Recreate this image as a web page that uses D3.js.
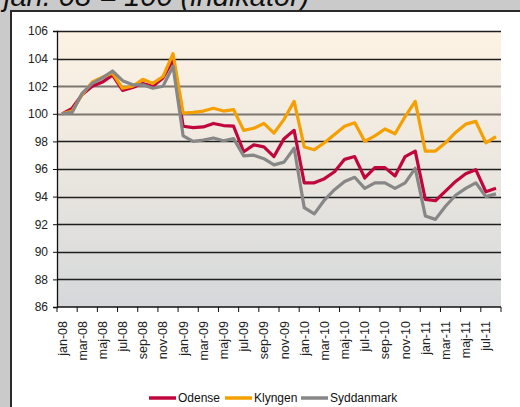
<!DOCTYPE html>
<html>
<head>
<meta charset="utf-8">
<script src="https://cdn.jsdelivr.net/npm/d3@7"></script>
<style>
  body { margin: 0; background: #cacaca; }
  svg { display: block; font-family: "Liberation Sans", Arial, sans-serif; }
</style>
</head>
<body>
<svg id="chart"></svg>
<script>
// Index, jan. 08 = 100
const months = [
  "jan-08","feb-08","mar-08","apr-08","maj-08","jun-08","jul-08","aug-08","sep-08","okt-08","nov-08","dec-08",
  "jan-09","feb-09","mar-09","apr-09","maj-09","jun-09","jul-09","aug-09","sep-09","okt-09","nov-09","dec-09",
  "jan-10","feb-10","mar-10","apr-10","maj-10","jun-10","jul-10","aug-10","sep-10","okt-10","nov-10","dec-10",
  "jan-11","feb-11","mar-11","apr-11","maj-11","jun-11","jul-11","aug-11"
];

const odense = [
  100.0, 100.4, 101.4, 102.0, 102.3, 102.8, 101.7, 101.9, 102.2, 102.0, 102.6, 103.9,
  99.1, 99.0, 99.05, 99.3, 99.15, 99.1, 97.25, 97.75, 97.6, 96.9, 98.2, 98.8,
  95.0, 95.0, 95.3, 95.8, 96.7, 96.9, 95.35, 96.1, 96.1, 95.5, 96.9, 97.3,
  93.8, 93.7, 94.4, 95.1, 95.65, 95.95, 94.35, 94.6
];

const klyngen = [
  100.0, 100.2, 101.4, 102.3, 102.65, 102.95, 101.85, 102.0, 102.5, 102.2, 102.7, 104.35,
  100.05, 100.1, 100.2, 100.4, 100.2, 100.3, 98.8, 98.95, 99.3, 98.6, 99.6, 100.9,
  97.6, 97.4, 97.9, 98.5, 99.1, 99.35, 98.0, 98.4, 98.9, 98.55, 99.8, 100.9,
  97.3, 97.3, 97.9, 98.65, 99.25, 99.45, 97.9, 98.35
];

const syddanmark = [
  100.0, 100.1, 101.5, 102.2, 102.6, 103.1, 102.4, 102.1, 102.1, 101.85, 102.0, 103.45,
  98.4, 98.0, 98.1, 98.25, 98.05, 98.2, 96.95, 97.0, 96.75, 96.3, 96.5, 97.5,
  93.2, 92.75, 93.75, 94.5, 95.1, 95.4, 94.6, 95.0, 95.0, 94.6, 95.0, 96.05,
  92.6, 92.35, 93.3, 94.1, 94.6, 95.0, 94.0, 94.2
];

const yTicks = [86, 88, 90, 92, 94, 96, 98, 100, 102, 104, 106];

const seriesNames = ["Odense", "Klyngen", "Syddanmark"];
const seriesColors = ["#c0063c", "#f5a000", "#878787"];

const width = 520;
const height = 407;
const margin = { top: 31, right: 19, bottom: 100, left: 57 };
const innerWidth = width - margin.left - margin.right;
const innerHeight = height - margin.top - margin.bottom;

const svg = d3.select("#chart")
    .attr("width", width)
    .attr("height", height);

// title, cut off at the top like the original
svg.append("text")
    .attr("x", 4)
    .attr("y", 6)
    .style("font-size", "29px")
    .style("font-style", "italic")
    .attr("fill", "#111")
    .text("jan. 08 = 100 (indikator)");

// white panel with dark left/top border
svg.append("rect")
    .attr("x", 11)
    .attr("y", 11)
    .attr("width", width)
    .attr("height", height)
    .attr("fill", "#fff")
    .attr("stroke", "#2a2a2a")
    .attr("stroke-width", 2);

const defs = svg.append("defs");
const grad = defs.append("linearGradient")
    .attr("id", "bg")
    .attr("x1", 0).attr("y1", 0)
    .attr("x2", 0).attr("y2", 1);
grad.append("stop").attr("offset", "0%").attr("stop-color", "#fdf3e4");
grad.append("stop").attr("offset", "45%").attr("stop-color", "#ede8e0");
grad.append("stop").attr("offset", "100%").attr("stop-color", "#d5d8da");

const g = svg.append("g")
    .attr("transform", "translate(" + margin.left + "," + margin.top + ")");

const xScale = d3.scaleBand()
    .domain(months)
    .range([0, innerWidth]);

const yScale = d3.scaleLinear()
    .domain([86, 106])
    .range([innerHeight, 0]);

g.append("rect")
    .attr("width", innerWidth)
    .attr("height", innerHeight)
    .attr("fill", "url(#bg)");

// gridlines
g.selectAll(".grid")
    .data(yTicks.filter(d => d !== 86))
    .enter()
    .append("line")
    .attr("class", "grid")
    .attr("x1", 0)
    .attr("x2", innerWidth)
    .attr("y1", d => Math.round(yScale(d)) + 0.5)
    .attr("y2", d => Math.round(yScale(d)) + 0.5)
    .attr("stroke", d => (d === 100 || d === 102) ? "#7b766f" : "#1e1e1e")
    .attr("stroke-width", d => (d === 100 || d === 102) ? 2 : 1.3);

// y axis
const yAxis = d3.axisLeft(yScale)
    .tickValues(yTicks)
    .tickSize(4)
    .tickPadding(5);

g.append("g")
    .attr("class", "y-axis")
    .call(yAxis)
    .call(a => a.select(".domain").attr("stroke", "#111").attr("stroke-width", 1.3))
    .call(a => a.selectAll(".tick line").attr("stroke", "#111"))
    .call(a => a.selectAll(".tick text")
        .attr("fill", "#222")
        .style("font-size", "12px")
        .style("font-family", "'Liberation Sans', Arial, sans-serif"));

// x axis: ticks every second month at band edges
const xAxisG = g.append("g")
    .attr("class", "x-axis")
    .attr("transform", "translate(0," + innerHeight + ")");

xAxisG.append("line")
    .attr("x1", 0)
    .attr("x2", innerWidth)
    .attr("stroke", "#111")
    .attr("stroke-width", 1.3);

const tickMonths = months.filter((d, i) => i % 2 === 0);

xAxisG.selectAll(".x-tick")
    .data(tickMonths.concat([null]))
    .enter()
    .append("line")
    .attr("class", "x-tick")
    .attr("x1", d => d === null ? innerWidth : xScale(d))
    .attr("x2", d => d === null ? innerWidth : xScale(d))
    .attr("y1", 0)
    .attr("y2", 5)
    .attr("stroke", "#111");

xAxisG.selectAll(".x-label")
    .data(tickMonths)
    .enter()
    .append("text")
    .attr("class", "x-label")
    .attr("transform", d => "translate(" + (xScale(d) + xScale.bandwidth() / 2) + ",14) rotate(-90)")
    .attr("dy", "0.36em")
    .style("text-anchor", "end")
    .style("font-size", "12.5px")
    .attr("fill", "#222")
    .text(d => d);

// lines
const allSeries = [odense, klyngen, syddanmark];

const line = d3.line()
    .x((d, i) => xScale(months[i]) + xScale.bandwidth() / 2)
    .y(d => yScale(d));

allSeries.forEach((values, k) => {
    g.append("path")
        .datum(values)
        .attr("class", "line")
        .attr("d", line)
        .attr("fill", "none")
        .attr("stroke", seriesColors[k])
        .attr("stroke-width", 3.2)
        .attr("stroke-linejoin", "round");
});

// legend
const legendX = [149, 225, 301];
const legendY = 398;

const legend = svg.selectAll(".legend")
    .data(seriesNames)
    .enter()
    .append("g")
    .attr("class", "legend")
    .attr("transform", (d, i) => "translate(" + legendX[i] + "," + legendY + ")");

legend.append("line")
    .attr("x1", 0)
    .attr("x2", 27)
    .attr("stroke", (d, i) => seriesColors[i])
    .attr("stroke-width", 3.5);

legend.append("text")
    .attr("x", 29)
    .attr("dy", "0.36em")
    .style("font-size", "12px")
    .attr("fill", "#111")
    .text(d => d);
</script>
</body>
</html>
